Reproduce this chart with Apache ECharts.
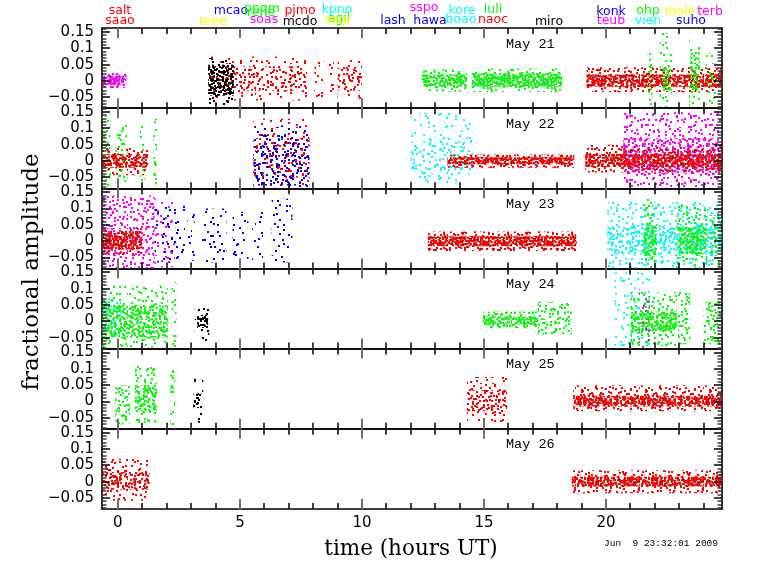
<!DOCTYPE html>
<html><head><meta charset="utf-8">
<script src="https://cdn.jsdelivr.net/npm/echarts@6/dist/echarts.min.js"></script>
<style>html,body{margin:0;padding:0;background:#fff}#c{width:768px;height:574px}</style>
</head><body><div id="c"></div><script>
// ---------------- data ----------------
const days = ['May 21', 'May 22', 'May 23', 'May 24', 'May 25', 'May 26'];
const xTickLabels = [0, 5, 10, 15, 20];
const yTickLabels = [-0.05, 0, 0.05, 0.1, 0.15];
const stationNames = ['salt','saao','tene','mcao','pnqm','rene','pjmo','soas','mcdo','kpno','agil','sagi',
  'sspo','kore','luli','lash','hawa','boao','naoc','miro','konk','teub','ohp','vien','mole','terb','suho'];
const stationColours = ['red','red','yellow','blue','green','green','red','magenta','black','cyan','green','yellow',
  'magenta','cyan','green','blue','blue','cyan','red','black','blue','magenta','green','cyan','yellow','magenta','blue'];
// observing runs: [colour, start (h UT), end (h UT), low amp, high amp, point density]
const may21 = [
  ['magenta', -0.65, 0.35, -0.022, 0.027, 3], ['magenta', -0.65, 0.35, -0.012, 0.016, 9],
  ['red', 3.8, 7.75, -0.06, 0.075, 1.0], ['red', 3.8, 7.75, -0.03, 0.045, 2.0],
  ['red', 8.05, 8.45, -0.05, 0.06, 1.2], ['red', 8.6, 8.85, -0.05, 0.06, 1.5],
  ['red', 9.0, 10.0, -0.055, 0.065, 1.2], ['red', 9.0, 10.0, -0.03, 0.04, 2.0],
  ['black', 3.7, 4.75, -0.075, 0.07, 1.5], ['black', 3.7, 4.75, -0.045, 0.05, 6],
  ['green', 12.45, 14.3, -0.032, 0.035, 2.5], ['green', 12.45, 14.3, -0.017, 0.02, 7],
  ['green', 14.5, 18.2, -0.034, 0.038, 2.5], ['green', 14.5, 18.2, -0.018, 0.022, 8],
  ['red', 19.2, 24.75, -0.034, 0.042, 2.5], ['red', 19.2, 24.75, -0.018, 0.02, 8],
  ['green', 21.7, 21.9, -0.08, 0.09, 2], ['green', 22.2, 22.7, -0.08, 0.147, 1.5],
  ['green', 22.3, 22.7, -0.03, 0.05, 4], ['green', 23.4, 23.85, -0.08, 0.125, 1.5],
  ['green', 23.45, 23.8, -0.03, 0.08, 4], ['green', 24.1, 24.5, -0.075, 0.085, 1.5]
];
const may22 = [
  ['green', -0.65, -0.3, -0.08, 0.15, 2], ['green', -0.1, 0.4, -0.065, 0.11, 2],
  ['green', 0.9, 1.1, -0.08, 0.11, 2], ['green', 1.45, 1.6, -0.075, 0.13, 2],
  ['red', -0.65, 1.25, -0.043, 0.04, 2], ['red', -0.65, 1.25, -0.02, 0.022, 6],
  ['red', 5.55, 7.85, -0.08, 0.13, 1.0], ['blue', 5.55, 7.85, -0.08, 0.11, 1.0],
  ['blue', 5.55, 7.85, -0.075, 0.07, 1.7], ['red', 5.55, 7.85, -0.05, 0.07, 0.8],
  ['cyan', 12.0, 14.55, -0.068, 0.147, 0.8], ['cyan', 12.0, 14.55, -0.04, 0.06, 1.5],
  ['red', 13.5, 18.7, -0.02, 0.02, 4], ['red', 13.5, 18.7, -0.01, 0.012, 9],
  ['red', 19.15, 20.7, -0.035, 0.05, 2.5],
  ['magenta', 20.7, 24.75, -0.08, 0.15, 1.8], ['magenta', 20.7, 24.75, -0.04, 0.07, 2.5],
  ['red', 20.7, 24.75, -0.035, 0.045, 3], ['red', 19.15, 24.75, -0.018, 0.022, 8]
];
const may23 = [
  ['magenta', -0.65, 1.5, -0.083, 0.14, 2.5], ['magenta', 1.5, 2.35, -0.08, 0.13, 1.2],
  ['red', -0.65, 1.0, -0.043, 0.04, 3], ['red', -0.65, 1.0, -0.025, 0.025, 8],
  ['blue', 1.5, 2.75, -0.065, 0.11, 1], ['blue', 2.85, 3.15, -0.06, 0.13, 1],
  ['blue', 3.45, 4.45, -0.065, 0.1, 1], ['blue', 4.7, 5.35, -0.065, 0.09, 1],
  ['blue', 5.5, 5.95, -0.06, 0.09, 1], ['blue', 6.3, 7.15, -0.065, 0.13, 1],
  ['red', 12.7, 18.8, -0.03, 0.03, 3], ['red', 12.7, 18.8, -0.015, 0.015, 9],
  ['cyan', 20.05, 24.75, -0.083, 0.12, 1.5], ['cyan', 20.05, 24.75, -0.04, 0.05, 3],
  ['green', 21.5, 22.1, -0.083, 0.13, 2], ['green', 21.55, 22.05, -0.05, 0.05, 5],
  ['green', 22.9, 24.15, -0.075, 0.11, 2], ['green', 23.0, 24.1, -0.04, 0.04, 5],
  ['green', 24.25, 24.75, -0.075, 0.08, 2.5]
];
const may24 = [
  ['cyan', -0.65, 0.15, -0.05, 0.07, 2],
  ['green', -0.65, 2.05, -0.08, 0.11, 1.5], ['green', -0.65, 2.05, -0.05, 0.05, 5],
  ['green', 2.2, 2.4, -0.08, 0.12, 2],
  ['black', 3.15, 3.75, -0.06, 0.05, 1], ['black', 3.25, 3.7, -0.02, 0.02, 8],
  ['green', 14.95, 17.2, -0.02, 0.03, 3], ['green', 14.95, 17.2, -0.01, 0.015, 7],
  ['green', 17.2, 18.6, -0.04, 0.06, 2.5],
  ['cyan', 20.35, 21.8, -0.083, 0.15, 1],
  ['green', 21.0, 22.9, -0.075, 0.09, 2], ['green', 21.0, 22.9, -0.03, 0.03, 6],
  ['magenta', 21.35, 21.8, -0.08, 0.1, 0.8],
  ['green', 22.95, 23.45, -0.07, 0.09, 2.5], ['green', 24.0, 24.75, -0.07, 0.06, 3]
];
const may25 = [
  ['green', -0.1, 0.5, -0.07, 0.05, 3],
  ['green', 0.7, 1.6, -0.065, 0.11, 2], ['green', 0.7, 1.6, -0.03, 0.05, 4],
  ['green', 2.15, 2.35, -0.083, 0.1, 2.5],
  ['black', 3.05, 3.5, -0.065, 0.07, 1], ['black', 3.1, 3.45, -0.02, 0.025, 4],
  ['red', 14.3, 15.95, -0.063, 0.075, 1.6], ['red', 14.3, 15.95, -0.03, 0.035, 2.5],
  ['red', 18.65, 24.75, -0.03, 0.05, 2.5], ['red', 18.65, 24.75, -0.015, 0.018, 8]
];
const may26 = [
  ['red', -0.65, 1.3, -0.058, 0.07, 1.5], ['red', -0.65, 1.3, -0.025, 0.03, 4],
  ['red', 18.6, 24.75, -0.035, 0.035, 2.5], ['red', 18.6, 24.75, -0.015, 0.015, 8]
];
const runs = [may21, may22, may23, may24, may25, may26];

// ---------------- style / layout ----------------
const COLORS = {red:'#ff0000', green:'#00ff00', blue:'#0000ff', cyan:'#00ffff', magenta:'#ff00ff', black:'#000000', yellow:'#ffff00'};
const labelPos = [[120,11],[120,20.5],[213,21.5],[231,10.5],[262,9],[261,13],[300,11],[264,20],[300,22],[337,10],[339,19],[337,20],
  [424,8],[462,11],[493,10],[393,21],[430,21],[461,20],[493,20],[549,22],[611,12],[611,21],[648,11],[648,21],[680,12],[710,11.5],[691,21]];
const GL = 102, GW = 620, GT = 28, GH = 80.15;
const XMIN = -0.65, XMAX = 24.75, YMIN = -0.0833, YMAX = 0.1622;
const DENSITY_SCALE = 2.3;

const tileCache = {};
function hash(n) { n = (n ^ 61) ^ (n >>> 16); n = n + (n << 3); n = n ^ (n >>> 4); n = Math.imul(n, 0x27d4eb2d); n = n ^ (n >>> 15); return (n >>> 0) / 4294967296; }
function tile(colour, dens, seed) {
  const key = colour + '|' + dens + '|' + seed;
  if (tileCache[key]) return tileCache[key];
  const S = 64, c = document.createElement('canvas'); c.width = c.height = S;
  const ctx = c.getContext('2d'); ctx.fillStyle = COLORS[colour];
  const n = Math.round(dens * DENSITY_SCALE * S * S / 100);
  const g = 1.32471795724474602596, a1 = 1 / g, a2 = 1 / (g * g);
  const ox = hash(seed * 7 + 1), oy = hash(seed * 13 + 5);
  const sp = Math.sqrt(S * S / Math.max(n, 1));
  for (let k = 0; k < n; k++) {
    let x = ((ox + a1 * k) % 1) * S + (hash(seed * 1000 + k * 2) - 0.5) * sp;
    let y = ((oy + a2 * k) % 1) * S + (hash(seed * 1000 + k * 2 + 1) - 0.5) * sp;
    x = ((Math.floor(x) % S) + S) % S; y = ((Math.floor(y) % S) + S) % S;
    ctx.fillRect(x, y, 2, 2);
  }
  return (tileCache[key] = {image: c, repeat: 'repeat'});
}
const fmtY = v => (v < 0 ? '\u2212' : '') + String(Math.abs(v));
const hourTicks = [], minorY = [];
for (let h = 0; h <= 24; h++) hourTicks.push(h);
for (let k = -8; k <= 16; k++) minorY.push(k / 100);

function tickRender(params, api) {
  const cs = params.coordSys, top = cs.y, bot = cs.y + cs.height, left = cs.x, right = cs.x + cs.width;
  const ch = [];
  hourTicks.forEach(h => {
    const major = xTickLabels.indexOf(h) >= 0;
    const px = Math.round(api.coord([h, 0])[0]);
    const len = major ? 10 : 6, w = major ? 2 : 1.6, fill = major ? '#707070' : '#101010';
    ch.push({type: 'rect', shape: {x: px - w / 2, y: bot - len, width: w, height: len}, style: {fill}});
    ch.push({type: 'rect', shape: {x: px - w / 2, y: top, width: w, height: len}, style: {fill}});
  });
  minorY.forEach(v => {
    const major = Math.abs(Math.round(v * 100)) % 5 === 0;
    const py = Math.round(api.coord([0, v])[1]);
    const len = major ? 8 : 4.5, hh = major ? 1.6 : 1.4, fill = major ? '#101010' : '#303030';
    ch.push({type: 'rect', shape: {x: left, y: py - hh / 2, width: len, height: hh}, style: {fill}});
    ch.push({type: 'rect', shape: {x: right - len, y: py - hh / 2, width: len, height: hh}, style: {fill}});
  });
  return {type: 'group', children: ch};
}

const grid = [], xAxis = [], yAxis = [], series = [], graphic = [];
const axisFont = {fontFamily: 'DejaVu Sans', fontSize: 15, color: '#000'};
runs.forEach((day, i) => {
  grid.push({left: GL, width: GW, top: GT + i * GH, height: GH, outerBoundsMode: 'none', containLabel: false});
  const last = i === runs.length - 1;
  ['bottom', 'top'].forEach(pos => {
    xAxis.push({type: 'value', gridIndex: i, position: pos, min: XMIN, max: XMAX,
      axisLine: {show: true, onZero: false, lineStyle: {color: '#000', width: 1.6}},
      axisTick: {show: false},
      axisLabel: {show: last && pos === 'bottom', customValues: xTickLabels, margin: 7, ...axisFont},
      splitLine: {show: false}});
  });
  ['left', 'right'].forEach(pos => {
    yAxis.push({type: 'value', gridIndex: i, position: pos, min: YMIN, max: YMAX,
      axisLine: {show: true, onZero: false, lineStyle: {color: '#000', width: 1.6}},
      axisTick: {show: false},
      axisLabel: {show: pos === 'left', customValues: yTickLabels, formatter: fmtY, margin: 8, ...axisFont},
      splitLine: {show: false}});
  });
  series.push({type: 'custom', xAxisIndex: i * 2, yAxisIndex: i * 2, silent: true, animation: false,
    data: day.map(r => [r[1], r[2], r[3], r[4]]),
    encode: {x: [0, 1], y: [2, 3]},
    renderItem: (params, api) => {
      const r = day[params.dataIndex];
      const p1 = api.coord([api.value(0), api.value(3)]);
      const p2 = api.coord([api.value(1), api.value(2)]);
      return {type: 'rect', shape: {x: p1[0], y: p1[1], width: p2[0] - p1[0], height: p2[1] - p1[1]},
        style: {fill: tile(r[0], r[5], i * 37 + params.dataIndex + 3)}};
    }});
  series.push({type: 'custom', xAxisIndex: i * 2, yAxisIndex: i * 2, silent: true, animation: false, z: 5,
    data: [[0, 0]], encode: {x: 0, y: 1}, renderItem: tickRender});
  graphic.push({type: 'text', x: 506, y: GT + i * GH + 16, silent: true,
    style: {text: days[i], fill: '#000', font: '13.5px "Liberation Mono"', align: 'left', verticalAlign: 'middle', textAlign: 'left', textVerticalAlign: 'middle'}});
});
stationNames.forEach((s, k) => {
  graphic.push({type: 'text', x: labelPos[k][0], y: labelPos[k][1], silent: true,
    style: {text: s, fill: COLORS[stationColours[k]], font: '12.5px "DejaVu Sans"', align: 'center', verticalAlign: 'middle', textAlign: 'center', textVerticalAlign: 'middle'}});
});
graphic.push({type: 'text', x: 32, y: 272, rotation: Math.PI / 2, silent: true,
  style: {text: 'fractional amplitude', fill: '#000', font: '23px "DejaVu Serif"', align: 'center', verticalAlign: 'middle', textAlign: 'center', textVerticalAlign: 'middle'}});
graphic.push({type: 'text', x: 411, y: 549, silent: true,
  style: {text: 'time (hours UT)', fill: '#000', font: '21.5px "DejaVu Serif"', align: 'center', verticalAlign: 'middle', textAlign: 'center', textVerticalAlign: 'middle'}});
graphic.push({type: 'text', x: 604, y: 543, silent: true,
  style: {text: 'Jun  9 23:32:01 2009', fill: '#000', font: '9.5px "Liberation Mono"', align: 'left', verticalAlign: 'middle', textAlign: 'left', textVerticalAlign: 'middle'}});

const chart = echarts.init(document.getElementById('c'), null, {renderer: 'canvas'});
chart.setOption({animation: false, backgroundColor: '#fff', grid, xAxis, yAxis, series, graphic});
</script></body></html>
